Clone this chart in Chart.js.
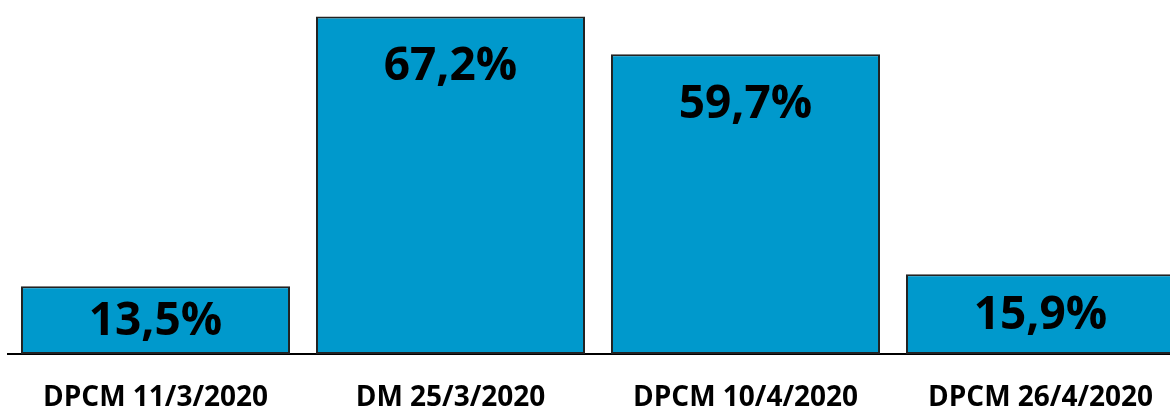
<!DOCTYPE html>
<html>
<head>
<meta charset="utf-8">
<script src="https://cdn.jsdelivr.net/npm/chart.js@4/dist/chart.umd.min.js"></script>
<style>
  html, body { margin: 0; padding: 0; background: #fff; overflow: hidden; }
  #wrap { position: relative; width: 1188px; height: 407px; }
</style>
</head>
<body>
<div id="wrap"><canvas id="c"></canvas></div>
<script>
const categories = ["DPCM 11/3/2020", "DM 25/3/2020", "DPCM 10/4/2020", "DPCM 26/4/2020"];
const values = [13.5, 67.2, 59.7, 15.9];
const valueLabels = ["13,5%", "67,2%", "59,7%", "15,9%"];

const FONT = "'Open Sans', 'DejaVu Sans', sans-serif";

const labelPlugin = {
  id: 'barLabels',
  afterDatasetsDraw(chart) {
    const ctx = chart.ctx;
    const meta = chart.getDatasetMeta(0);
    ctx.save();
    ctx.font = "bold 46px " + FONT;
    ctx.fillStyle = "#000";
    ctx.textAlign = "center";
    ctx.textBaseline = "alphabetic";
    const capH = 46 * 0.714;
    meta.data.forEach((bar, i) => {
      const top = bar.y, base = bar.base;
      const mid = (top + base) / 2 - 2;
      const cy = Math.min(top + 47, mid);
      ctx.fillText(valueLabels[i], bar.x, cy + capH / 2);
    });
    ctx.restore();
  }
};

new Chart(document.getElementById('c'), {
  type: 'bar',
  data: {
    labels: categories,
    datasets: [{
      data: values,
      backgroundColor: '#0099CC',
      borderColor: '#222222',
      borderWidth: 2,
      borderSkipped: false,
      categoryPercentage: 1.0,
      barPercentage: 0.912
    }]
  },
  options: {
    responsive: true,
    maintainAspectRatio: false,
    animation: false,
    layout: { padding: { left: 8, right: 0, top: 0, bottom: 0 } },
    plugins: { legend: { display: false }, tooltip: { enabled: false } },
    scales: {
      y: { display: false, min: 0, max: 70.5 },
      x: {
        afterFit(scale) { scale.height = 53; },
        grid: { display: false, drawTicks: false },
        border: { display: true, color: '#000', width: 2 },
        ticks: {
          color: '#000',
          padding: 31,
          maxRotation: 0,
          autoSkip: false,
          font: { family: FONT, size: 28, weight: 'bold', lineHeight: 0.9 }
        }
      }
    }
  },
  plugins: [labelPlugin]
});
</script>
</body>
</html>
